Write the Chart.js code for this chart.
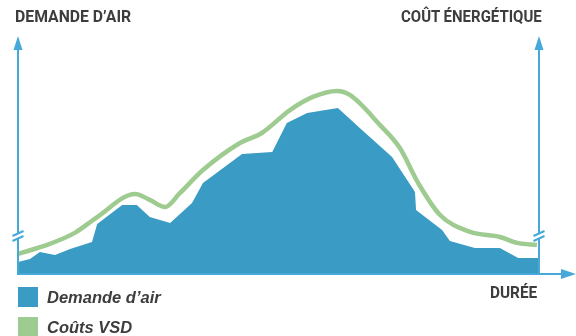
<!DOCTYPE html>
<html lang="fr">
<head>
<meta charset="utf-8">
<title>Demande d'air et coûts VSD</title>
<script src="https://cdn.jsdelivr.net/npm/chart.js@4.4.1/dist/chart.umd.min.js"></script>
<style>
  body { margin: 0; background: #fff; }
  #wrap { position: relative; width: 576px; height: 336px; overflow: hidden; }
  #chart { position: absolute; left: 0; top: 0; }
  .axis-title {
    position: absolute;
    font-family: Roboto, "Liberation Sans", sans-serif;
    font-weight: bold;
    font-size: 17px;
    line-height: 17px;
    color: #3d3d3d;
    white-space: nowrap;
  }
  .legend-item {
    position: absolute;
    left: 18px;
    height: 20px;
    font-family: "Liberation Sans", Arial, sans-serif;
    font-weight: bold;
    font-style: italic;
    font-size: 16.5px;
    line-height: 20px;
    color: #3d3d3d;
    white-space: nowrap;
  }
  .legend-item span.box {
    display: inline-block;
    width: 20px;
    height: 20px;
    vertical-align: top;
    margin-right: 9px;
  }
</style>
</head>
<body>
<div id="wrap">
  <canvas id="chart" width="576" height="336"></canvas>
  <div class="axis-title" data-left="15" data-width="116" style="top:8px;">DEMANDE D’AIR</div>
  <div class="axis-title" data-left="401" data-width="141" style="top:8px;">COÛT ÉNERGÉTIQUE</div>
  <div class="axis-title" data-left="490" data-width="47" style="top:284px;">DURÉE</div>
  <div class="legend-item" style="top:287px;"><span class="box" style="background:#3a9bc4;"></span>Demande d’air</div>
  <div class="legend-item" style="top:317px;"><span class="box" style="background:#9ecb8f;"></span>Coûts VSD</div>
</div>
<script>
'use strict';

// ************** Data (durée 0-100, valeurs 0-100) ***************

let airTime = [0, 2.3, 4.2, 7.1, 10.0, 14.2, 15.2, 20.0, 22.8, 25.3, 29.2, 33.4, 35.5, 43.0, 48.8, 51.6, 55.5, 61.4, 65.6, 71.8, 76.2, 76.4, 81.4, 82.9, 87.7, 92.5, 96.0, 100];
let airDemand = [5.0, 6.3, 9.2, 7.9, 10.5, 13.4, 20.9, 28.9, 28.9, 23.8, 21.3, 29.7, 38.1, 50.2, 51.0, 63.2, 67.4, 69.5, 61.1, 49.0, 34.3, 26.8, 18.4, 13.8, 10.9, 10.9, 6.7, 6.7];

let costTime = [0, 6.1, 10.9, 15.2, 22.5, 25.3, 28.2, 31.1, 35.5, 42.6, 46.8, 52.2, 56.6, 61.2, 63.7, 69.5, 73.3, 76.8, 81.0, 86.8, 92.5, 95.8, 99.6];
let costVsd = [8.4, 12.6, 17.2, 23.8, 33.5, 31.0, 28.0, 33.9, 43.5, 54.8, 59.0, 68.6, 74.1, 76.6, 74.9, 62.3, 52.7, 38.1, 24.7, 17.6, 15.5, 13.0, 12.1];

let axisColor = '#47a9d8';

function toPoints(xs, ys) {
  let pts = [];
  for (let i = 0; i < xs.length; i++) {
    pts.push({ x: xs[i], y: ys[i] });
  }
  return pts;
}

// condensed look for the axis titles: squeeze each one to its width
document.querySelectorAll('.axis-title').forEach(function (el) {
  let w = el.offsetWidth;
  let target = parseFloat(el.dataset.width);
  el.style.left = el.dataset.left + 'px';
  el.style.transformOrigin = '0 0';
  el.style.transform = 'scaleX(' + (target / w) + ')';
});

// ************** Axes with arrows and breaks ***************

let arrowAxes = {
  id: 'arrowAxes',
  afterDatasetsDraw(chart) {
    let c = chart.ctx;
    let a = chart.chartArea;
    let top = a.top + 1;
    c.save();
    c.strokeStyle = axisColor;
    c.fillStyle = axisColor;
    c.lineWidth = 2;

    // vertical axes
    [a.left, a.right].forEach(function (x) {
      c.beginPath();
      c.moveTo(x, a.bottom);
      c.lineTo(x, top + 12);
      c.stroke();
      c.beginPath();
      c.moveTo(x, top);
      c.lineTo(x - 4.5, top + 14);
      c.lineTo(x + 4.5, top + 14);
      c.closePath();
      c.fill();

      // break marks
      c.save();
      c.fillStyle = '#fff';
      c.fillRect(x - 3, a.bottom - 40, 6, 5);
      c.restore();
      c.beginPath();
      c.moveTo(x - 5.5, a.bottom - 33);
      c.lineTo(x + 5.5, a.bottom - 38);
      c.moveTo(x - 5.5, a.bottom - 38);
      c.lineTo(x + 5.5, a.bottom - 43);
      c.stroke();
    });

    // horizontal axis
    c.beginPath();
    c.moveTo(a.left - 1, a.bottom);
    c.lineTo(562, a.bottom);
    c.stroke();
    c.beginPath();
    c.moveTo(576, a.bottom);
    c.lineTo(561, a.bottom - 5);
    c.lineTo(561, a.bottom + 5);
    c.closePath();
    c.fill();
    c.restore();
  }
};

// ************** Chart ***************

let ctx = document.getElementById('chart').getContext('2d');

new Chart(ctx, {
  type: 'line',
  data: {
    datasets: [{
      label: 'Coûts VSD',
      data: toPoints(costTime, costVsd),
      borderColor: '#9ecb8f',
      borderWidth: 4.5,
      fill: false,
      cubicInterpolationMode: 'monotone',
      pointRadius: 0,
      order: 1
    },
    {
      label: 'Demande d’air',
      data: toPoints(airTime, airDemand),
      borderWidth: 0,
      borderColor: 'rgba(0,0,0,0)',
      backgroundColor: '#3a9bc4',
      fill: 'origin',
      tension: 0,
      pointRadius: 0,
      order: 2
    }]
  },
  options: {
    responsive: false,
    animation: false,
    layout: {
      padding: { left: 18, right: 37, top: 35, bottom: 62 }
    },
    scales: {
      x: { type: 'linear', min: 0, max: 100, display: false },
      y: { min: 0, max: 100, display: false }
    },
    plugins: {
      legend: { display: false },
      tooltip: { enabled: false }
    }
  },
  plugins: [arrowAxes]
});
</script>
</body>
</html>
